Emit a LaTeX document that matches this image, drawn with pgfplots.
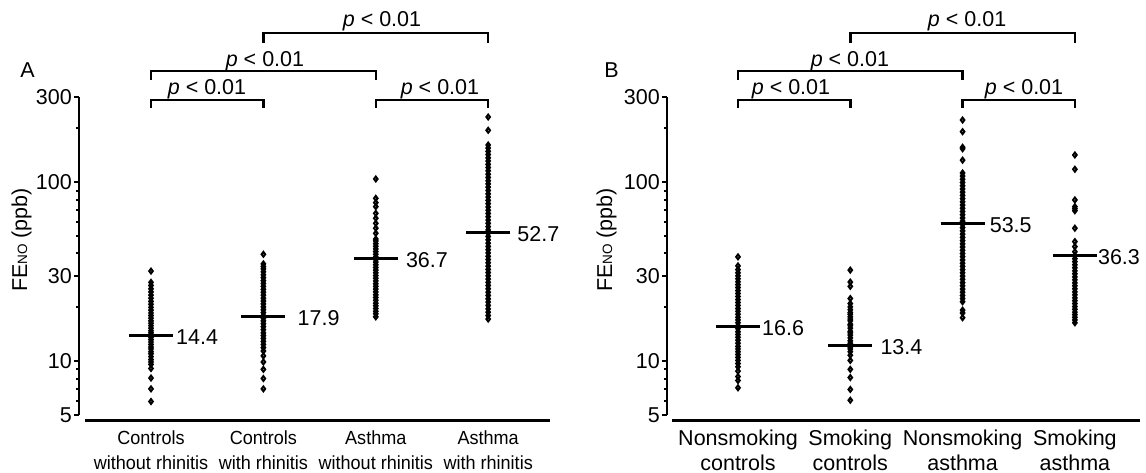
\documentclass[border=0pt]{standalone}
\usepackage{fontspec}
\setmainfont{Liberation Sans}
\usepackage{graphicx}
\usepackage{pgfplots}
\pgfplotsset{compat=1.18}

\newcommand\lab{\fontsize{21.5}{25}\selectfont}
\newcommand\smallno{{\fontsize{13.5}{14}\selectfont NO}}
% bracket: x1, x2, height of bar, end of legs (pt above the 300 line)
\newcommand\sigbar[4]{\draw[line width=2.5pt] ([yshift=#4pt]axis cs:#1,300) -- ([yshift=#3pt]axis cs:#1,300) -- ([yshift=#3pt]axis cs:#2,300) -- ([yshift=#4pt]axis cs:#2,300);}
\newcommand\pval[2]{\node[anchor=base, font=\lab, inner sep=0pt] at ([yshift=#2pt]axis cs:#1,300) {\textit{p} < 0.01};}
\newcommand\medlab[4]{\node[anchor=west, font=\lab, inner sep=0pt, xshift=#3pt, yshift=-1.5pt] at (axis cs:#1,#2) {#4};}

\pgfplotsset{
  fdots/.style={only marks, mark=diamond, mark size=2.4pt,
    mark options={fill=white, draw=black, line width=2pt}},
  fmed/.style={black, line width=3pt, no marks},
}

\begin{document}
\begin{tikzpicture}
\useasboundingbox (0pt,0pt) rectangle (1146pt,473pt);

% ---------- panel A
\begin{semilogyaxis}[at={(79pt,52pt)}, anchor=south west,
  scale only axis, width=471pt, height=324pt,
  xmin=0.3594, xmax=4.550, ymin=4.63, ymax=300,
  axis x line*=bottom, axis y line*=left,
  axis line style={draw=none},
  ytick={5,10,30,100,300}, yticklabels={5,10,30,100,300},
  minor ytick={6,7,8,9,20,40,50,60,70,80,90,200},
  tick align=outside,
  major tick length=5pt, minor tick length=3pt,
  tick style={black, line width=2pt},
  xtick={1,2,3,4}, xtick style={draw=none},
  yticklabel style={font=\lab, inner sep=0pt, xshift=-2pt},
  xticklabel style={align=center, anchor=north, inner sep=0pt, yshift=-5pt, font=\fontsize{19}{24.5}\selectfont},
  clip=false,
  xticklabels={{\scalebox{0.95}[1]{Controls}\\\scalebox{0.95}[1]{without rhinitis}},
               {\scalebox{0.95}[1]{Controls}\\\scalebox{0.95}[1]{with rhinitis}},
               {\scalebox{0.95}[1]{Asthma}\\\scalebox{0.95}[1]{without rhinitis}},
               {\scalebox{0.95}[1]{Asthma}\\\scalebox{0.95}[1]{with rhinitis}}}]
  \draw[line width=2.5pt] (axis cs:0.3594,5) -- (axis cs:0.3594,300);
  \draw[line width=3pt] ([xshift=6pt]rel axis cs:0,0) -- (rel axis cs:1,0);

  \addplot[fdots] coordinates {(1,5.95)(1,7.0)(1,8.05)(1,9.1)(1,9.6)(1,9.9)(1,10.2)(1,10.6)(1,11)(1,11.3)(1,11.7)(1,12)(1,12.4)(1,12.8)(1,13.2)(1,13.6)(1,14)(1,14.4)(1,14.8)(1,15.3)(1,15.8)(1,16.3)(1,16.8)(1,17.4)(1,18)(1,18.6)(1,19.3)(1,20)(1,20.8)(1,21.6)(1,22.5)(1,23.4)(1,24.4)(1,25.4)(1,26.5)(1,27.6)(1,31.9)};
  \addplot[fdots] coordinates {(2,7.0)(2,8.0)(2,9.0)(2,9.9)(2,10.7)(2,11.4)(2,11.9)(2,12.4)(2,12.9)(2,13.4)(2,13.9)(2,14.4)(2,15)(2,15.6)(2,16.2)(2,16.8)(2,17.4)(2,18)(2,18.7)(2,19.4)(2,20.1)(2,20.9)(2,21.7)(2,22.5)(2,23.4)(2,24.3)(2,25.2)(2,26.2)(2,27.2)(2,28.2)(2,29.3)(2,30.4)(2,31.6)(2,32.8)(2,33.8)(2,35.0)(2,39.6)};
  \addplot[fdots] coordinates {(3,17.7)(3,18.4)(3,19)(3,19.7)(3,20.4)(3,21.1)(3,21.9)(3,22.7)(3,23.5)(3,24.4)(3,25.3)(3,26.2)(3,27.1)(3,28.1)(3,29.1)(3,30.1)(3,31.2)(3,32.3)(3,33.4)(3,34.6)(3,35.8)(3,37)(3,38.3)(3,39.6)(3,41)(3,42.4)(3,43.9)(3,45.4)(3,47)(3,48.2)(3,51.9)(3,55.4)(3,59)(3,63)(3,67.1)(3,73.1)(3,77)(3,81.4)(3,104.4)};
  \addplot[fdots] coordinates {(4,17.2)(4,18)(4,18.8)(4,19.6)(4,20.5)(4,21.4)(4,22.3)(4,23.3)(4,24.3)(4,25.4)(4,26.5)(4,27.6)(4,28.8)(4,30)(4,31.3)(4,32.6)(4,34)(4,35.5)(4,37)(4,38.6)(4,40.3)(4,42)(4,43.8)(4,45.7)(4,47.7)(4,49.8)(4,52)(4,54.2)(4,56.5)(4,59)(4,61.5)(4,64.2)(4,67)(4,69.8)(4,72.8)(4,76)(4,79.3)(4,82.7)(4,86.2)(4,90)(4,94)(4,98)(4,102)(4,106.5)(4,111)(4,116)(4,121)(4,126)(4,131.5)(4,137)(4,143)(4,149)(4,155.5)(4,161.7)(4,195.4)(4,231.9)};

  \addplot[fmed] coordinates {(0.804,13.9)(1.196,13.9)};
  \addplot[fmed] coordinates {(1.804,17.7)(2.196,17.7)};
  \addplot[fmed] coordinates {(2.804,37.3)(3.196,37.3)};
  \addplot[fmed] coordinates {(3.804,52.6)(4.196,52.6)};
  \medlab{1.196}{13.9}{3}{14.4}
  \medlab{2.196}{17.7}{12}{17.9}
  \medlab{3.196}{37.3}{8}{36.7}
  \medlab{4.196}{52.6}{7}{52.7}

  \sigbar{1}{2}{-3}{-11}
  \sigbar{1}{3}{26}{17}
  \sigbar{2}{4}{64}{54}
  \sigbar{3}{4}{-3}{-11}
  \pval{1.498}{2}
  \pval{2.014}{30}
  \pval{3.055}{70}
  \pval{3.571}{2}
\end{semilogyaxis}

% ---------- panel B
\begin{semilogyaxis}[at={(667pt,52pt)}, anchor=south west,
  scale only axis, width=473pt, height=324pt,
  xmin=0.3678, xmax=4.580, ymin=4.63, ymax=300,
  axis x line*=bottom, axis y line*=left,
  axis line style={draw=none},
  ytick={5,10,30,100,300}, yticklabels={5,10,30,100,300},
  minor ytick={6,7,8,9,20,40,50,60,70,80,90,200},
  tick align=outside,
  major tick length=5pt, minor tick length=3pt,
  tick style={black, line width=2pt},
  xtick={1,2,3,4}, xtick style={draw=none},
  yticklabel style={font=\lab, inner sep=0pt, xshift=-2pt},
  xticklabel style={align=center, anchor=north, inner sep=0pt, yshift=-4pt, font=\fontsize{21.5}{24.5}\selectfont},
  clip=false,
  xticklabels={{Nonsmoking\\controls},{Smoking\\controls},{Nonsmoking\\asthma},{Smoking\\asthma}}]
  \draw[line width=2.5pt] (axis cs:0.3678,5) -- (axis cs:0.3678,300);
  \draw[line width=3pt] ([xshift=5pt]rel axis cs:0,0) -- (rel axis cs:1,0);

  \addplot[fdots] coordinates {(1,7.1)(1,7.8)(1,8.2)(1,8.8)(1,9.3)(1,9.7)(1,10.1)(1,10.5)(1,10.9)(1,11.3)(1,11.7)(1,12.1)(1,12.6)(1,13.1)(1,13.6)(1,14.1)(1,14.6)(1,15.2)(1,15.8)(1,16.4)(1,17)(1,17.6)(1,18.3)(1,19)(1,19.7)(1,20.5)(1,21.3)(1,22.1)(1,23)(1,23.9)(1,24.8)(1,25.8)(1,26.8)(1,27.8)(1,28.9)(1,30)(1,31.2)(1,32.5)(1,34.1)(1,38.3)};
  \addplot[fdots] coordinates {(2,6.05)(2,6.95)(2,8.1)(2,9.0)(2,10.1)(2,10.8)(2,11.3)(2,11.7)(2,12.0)(2,12.3)(2,12.6)(2,13.0)(2,13.5)(2,14.0)(2,14.4)(2,14.7)(2,15.3)(2,15.8)(2,16.1)(2,16.8)(2,17.2)(2,17.7)(2,18.3)(2,18.7)(2,19.4)(2,20.1)(2,21.0)(2,22.4)(2,26.2)(2,27.7)(2,32.3)};
  \addplot[fdots] coordinates {(3,17.5)(3,18.6)(3,19.3)(3,21.5)(3,22.4)(3,23.3)(3,24.3)(3,25.3)(3,26.4)(3,27.5)(3,28.7)(3,29.9)(3,31.2)(3,32.5)(3,33.9)(3,35.3)(3,36.8)(3,38.4)(3,40)(3,41.7)(3,43.5)(3,45.3)(3,47.2)(3,49.2)(3,51.3)(3,53.5)(3,55.8)(3,58.1)(3,60.6)(3,63.2)(3,65.9)(3,68.7)(3,71.6)(3,74.6)(3,77.8)(3,81.1)(3,84.5)(3,88.1)(3,91.8)(3,95.7)(3,99.8)(3,104)(3,108.4)(3,112.8)(3,133)(3,154)(3,157)(3,192)(3,223)};
  \addplot[fdots] coordinates {(4,16.4)(4,17)(4,17.6)(4,18.2)(4,18.8)(4,19.5)(4,20.2)(4,21)(4,21.8)(4,22.6)(4,23.5)(4,24.4)(4,25.4)(4,26.4)(4,27.4)(4,28.5)(4,29.6)(4,30.8)(4,32)(4,33.3)(4,34.6)(4,36)(4,37.4)(4,38.8)(4,40.9)(4,43.7)(4,46.6)(4,55.4)(4,69.4)(4,71.3)(4,73.1)(4,79.7)(4,118.3)(4,142.2)};

  \addplot[fmed] coordinates {(0.804,15.7)(1.196,15.7)};
  \addplot[fmed] coordinates {(1.804,12.2)(2.196,12.2)};
  \addplot[fmed] coordinates {(2.804,59.0)(3.196,59.0)};
  \addplot[fmed] coordinates {(3.804,38.8)(4.196,38.8)};
  \medlab{1.196}{15.7}{2}{16.6}
  \medlab{2.196}{12.2}{8}{13.4}
  \medlab{3.196}{59.0}{5}{53.5}
  \medlab{4.196}{38.8}{1}{36.3}

  \sigbar{1}{2}{-3}{-11}
  \sigbar{1}{3}{26}{17}
  \sigbar{2}{4}{64}{54}
  \sigbar{3}{4}{-3}{-11}
  \pval{1.472}{2}
  \pval{1.997}{30}
  \pval{3.040}{70}
  \pval{3.547}{2}
\end{semilogyaxis}

% axis titles and panel letters
\node[rotate=90, anchor=base, font=\lab, inner sep=0pt] at (27pt,233pt) {FE\smallno{} (ppb)};
\node[rotate=90, anchor=base, font=\lab, inner sep=0pt] at (612pt,233pt) {FE\smallno{} (ppb)};
\node[anchor=base, font=\lab, inner sep=0pt] at (27.5pt,395pt) {A};
\node[anchor=base, font=\lab, inner sep=0pt] at (611.5pt,395pt) {B};
\end{tikzpicture}
\end{document}
